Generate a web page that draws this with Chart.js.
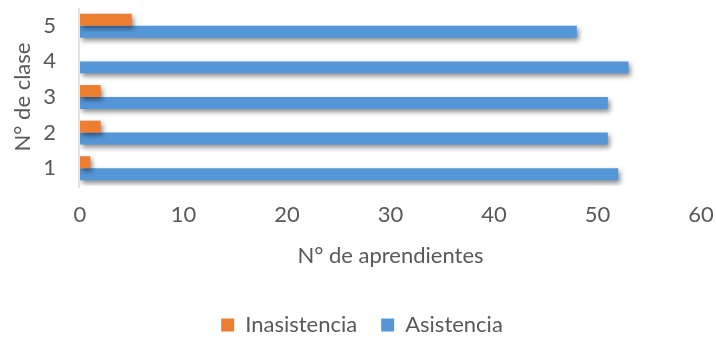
<!DOCTYPE html>
<html>
<head>
<meta charset="utf-8">
<script src="https://cdn.jsdelivr.net/npm/chart.js@4.4.0/dist/chart.umd.min.js"></script>
<style>
  html, body { margin: 0; padding: 0; background: #fff; }
  #wrap { width: 716px; height: 337px; position: relative; }
</style>
</head>
<body>
<div id="wrap"><canvas id="claseChart"></canvas></div>
<script>
const clases = ['1', '2', '3', '4', '5'];
const inasistencia = [1, 2, 2, 0, 5];
const asistencia = [52, 51, 51, 53, 48];
const xTicks = [0, 10, 20, 30, 40, 50, 60];

// sombra suave debajo de las barras
const barShadow = {
    id: 'barShadow',
    beforeDatasetsDraw(chart) {
        const ctx = chart.ctx;
        ctx.save();
        ctx.shadowColor = 'rgba(0,0,0,0.45)';
        ctx.shadowBlur = 5;
        ctx.shadowOffsetX = 2;
        ctx.shadowOffsetY = 3;
    },
    afterDatasetsDraw(chart) {
        chart.ctx.restore();
    }
};

// linea vertical del eje de categorias
const axisLine = {
    id: 'axisLine',
    beforeDatasetsDraw(chart) {
        const ctx = chart.ctx;
        const x = chart.scales.x.getPixelForValue(0);
        ctx.save();
        ctx.strokeStyle = '#d9d9d9';
        ctx.lineWidth = 1.5;
        ctx.beginPath();
        ctx.moveTo(x - 1, chart.chartArea.top);
        ctx.lineTo(x - 1, chart.chartArea.bottom + 2);
        ctx.stroke();
        ctx.restore();
    }
};

const fuente = "Lato, 'Open Sans', sans-serif";
const gris = '#595959';

const ctx = document.getElementById('claseChart').getContext('2d');
const claseChart = new Chart(ctx, {
    type: 'bar',
    data: {
        labels: clases,
        datasets: [{
            label: 'Inasistencia',
            data: inasistencia,
            backgroundColor: '#ED7D31',
            barPercentage: 1,
            categoryPercentage: 0.67
        }, {
            label: 'Asistencia',
            data: asistencia,
            backgroundColor: '#5596D8',
            barPercentage: 1,
            categoryPercentage: 0.67
        }]
    },
    options: {
        indexAxis: 'y',
        responsive: true,
        maintainAspectRatio: false,
        animation: false,
        layout: { padding: { top: 8, right: 15, left: 23, bottom: -9 } },
        scales: {
            x: {
                min: 0,
                max: 60,
                afterBuildTicks(axis) {
                    axis.ticks = xTicks.map(v => ({ value: v }));
                },
                afterFit(scale) {
                    scale.height = 104;
                    scale.paddingLeft = 0;
                    scale.paddingRight = 0;
                },
                grid: { display: false, drawTicks: false },
                border: { display: false },
                ticks: {
                    padding: 16,
                    color: gris,
                    font: { family: fuente, size: 22 }
                },
                title: {
                    display: true,
                    text: 'N° de aprendientes',
                    color: gris,
                    font: { family: fuente, size: 22 },
                    padding: { top: 0, bottom: 21 }
                }
            },
            y: {
                reverse: true,
                afterFit(scale) {
                    scale.width = 57;
                    scale.paddingTop = 0;
                    scale.paddingBottom = 0;
                },
                grid: { display: false, drawTicks: false },
                border: { display: false },
                ticks: {
                    padding: 24,
                    color: gris,
                    font: { family: fuente, size: 22 }
                },
                title: {
                    display: true,
                    text: 'N° de clase',
                    color: gris,
                    font: { family: fuente, size: 22 },
                    padding: { top: -13, bottom: 0 }
                }
            }
        },
        plugins: {
            legend: {
                position: 'bottom',
                labels: {
                    boxWidth: 13,
                    boxHeight: 13,
                    padding: 24,
                    color: gris,
                    font: { family: fuente, size: 22 }
                }
            },
            tooltip: { enabled: false }
        }
    },
    plugins: [axisLine, barShadow]
});
</script>
</body>
</html>
